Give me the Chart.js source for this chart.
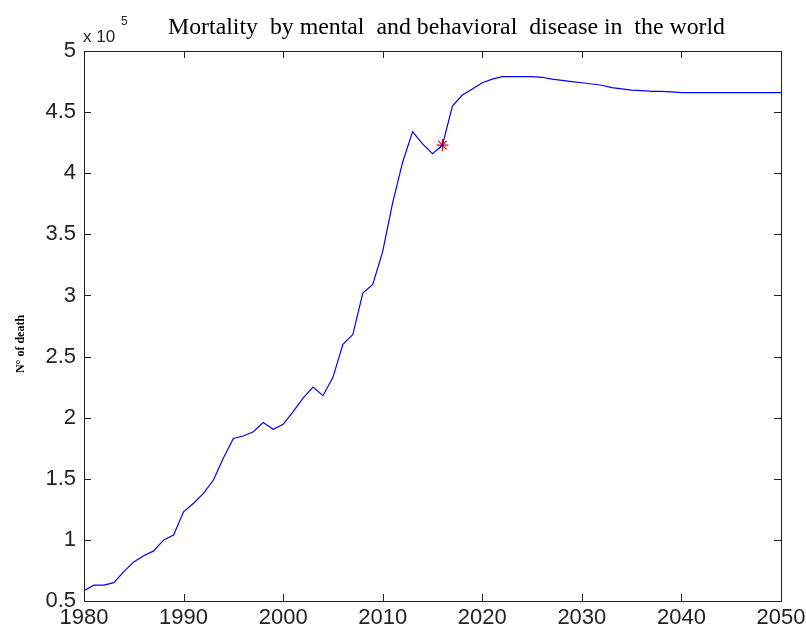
<!DOCTYPE html>
<html>
<head>
<meta charset="utf-8">
<script src="https://cdn.jsdelivr.net/npm/chart.js@4/dist/chart.umd.min.js"></script>
<style>
  html, body { margin: 0; padding: 0; background: #fff; }
  #wrap { width: 806px; height: 628px; }
</style>
</head>
<body>
<div id="wrap"><canvas id="chart" width="806" height="628"></canvas></div>
<script>
// years on the x axis
const years = [
    1980, 1981, 1982, 1983, 1984, 1985, 1986, 1987, 1988, 1989,
    1990, 1991, 1992, 1993, 1994, 1995, 1996, 1997, 1998, 1999,
    2000, 2001, 2002, 2003, 2004, 2005, 2006, 2007, 2008, 2009,
    2010, 2011, 2012, 2013, 2014, 2015, 2016, 2017, 2018, 2019,
    2020, 2021, 2022, 2023, 2024, 2025, 2026, 2027, 2028, 2029,
    2030, 2031, 2032, 2033, 2034, 2035, 2036, 2037, 2038, 2039,
    2040, 2041, 2042, 2043, 2044, 2045, 2046, 2047, 2048, 2049,
    2050
];

// number of deaths
const deaths = [
    58400, 63000, 63000, 65000, 74000, 82000, 87000, 91000, 100000, 104000,
    123000, 130000, 138000, 149000, 167000, 183000, 185000, 188500, 196000, 190500,
    194500, 205000, 216000, 225000, 218000, 233000, 260000, 268000, 302000, 309000,
    336000, 376000, 409000, 434000, 424000, 416000, 423000, 455000, 464000, 469000,
    474000, 477000, 479000, 479000, 479000, 479000, 478500, 477000, 476000, 475000,
    474000, 473000, 472000, 470000, 469000, 468000, 467500, 467000, 467000, 466500,
    466000, 466000, 466000, 466000, 466000, 466000, 466000, 466000, 466000, 466000,
    466000
];

// highlighted point (red star)
const markYear = 2016;
const markValue = 423000;

const xTicks = [1980, 1990, 2000, 2010, 2020, 2030, 2040, 2050];
const yTicks = [50000, 100000, 150000, 200000, 250000, 300000, 350000, 400000, 450000, 500000];

const titleText = 'Mortality  by mental  and behavioral  disease in  the world';
const yTitleText = 'N\u00b0 of death';

// рамка, внутренние засечки и подписи как в MATLAB
const matlabFrame = {
    id: 'matlabFrame',
    afterDraw(chart) {
        const ctx = chart.ctx;
        const a = chart.chartArea;
        const xs = chart.scales.x;
        const ys = chart.scales.y;
        const len = 7;

        ctx.save();
        ctx.strokeStyle = '#222';
        ctx.lineWidth = 1;
        ctx.strokeRect(Math.round(a.left) + 0.5, Math.round(a.top) + 0.5,
            Math.round(a.right - a.left), Math.round(a.bottom - a.top));

        ctx.beginPath();
        xTicks.forEach(v => {
            const px = Math.round(xs.getPixelForValue(v)) + 0.5;
            ctx.moveTo(px, a.bottom); ctx.lineTo(px, a.bottom - len);
            ctx.moveTo(px, a.top); ctx.lineTo(px, a.top + len);
        });
        yTicks.forEach(v => {
            const py = Math.round(ys.getPixelForValue(v)) + 0.5;
            ctx.moveTo(a.left, py); ctx.lineTo(a.left + len, py);
            ctx.moveTo(a.right, py); ctx.lineTo(a.right - len, py);
        });
        ctx.stroke();

        // заголовок (растягиваем по ширине как в оригинале)
        ctx.save();
        ctx.fillStyle = '#000';
        ctx.font = '23px "Liberation Serif", "Times New Roman", serif';
        ctx.textAlign = 'center';
        ctx.textBaseline = 'alphabetic';
        const w = ctx.measureText(titleText).width;
        ctx.translate(446.5, 34);
        ctx.scale(557 / w, 1);
        ctx.fillText(titleText, 0, 0);
        ctx.restore();

        // множитель оси Y
        ctx.fillStyle = '#222';
        ctx.textAlign = 'left';
        ctx.font = '17px "Liberation Sans", Arial, sans-serif';
        ctx.fillText('x 10', 83, 42);
        ctx.font = '12px "Liberation Sans", Arial, sans-serif';
        ctx.fillText('5', 121, 25);

        // подпись оси Y
        ctx.translate(24, 344);
        ctx.rotate(-Math.PI / 2);
        ctx.textAlign = 'center';
        ctx.fillStyle = '#000';
        ctx.font = 'bold 12px "Liberation Serif", "Times New Roman", serif';
        ctx.fillText(yTitleText, 0, 0);
        ctx.restore();
    }
};

new Chart(document.getElementById('chart'), {
    type: 'line',
    data: {
        datasets: [
            {
                data: years.map((y, i) => ({ x: y, y: deaths[i] })),
                borderColor: '#0000ff',
                borderWidth: 1.2,
                pointRadius: 0,
                tension: 0,
                fill: false
            },
            {
                data: [{ x: markYear, y: markValue }],
                showLine: false,
                pointStyle: 'star',
                pointRadius: 6,
                borderColor: '#ff0000',
                backgroundColor: '#ff0000',
                borderWidth: 1.2
            }
        ]
    },
    options: {
        responsive: false,
        animation: false,
        layout: { padding: { top: 51, right: 25, left: 0, bottom: 0 } },
        plugins: {
            legend: { display: false },
            tooltip: { enabled: false }
        },
        scales: {
            x: {
                type: 'linear',
                min: 1980,
                max: 2050,
                afterFit(scale) {
                    scale.height = 27;
                    scale.paddingLeft = 0;
                    scale.paddingRight = 0;
                },
                afterBuildTicks(scale) { scale.ticks = xTicks.map(v => ({ value: v })); },
                grid: { display: false, drawTicks: false },
                border: { display: false },
                ticks: {
                    padding: 4,
                    color: '#222',
                    maxRotation: 0,
                    font: { family: '"Liberation Sans", Arial, sans-serif', size: 22 },
                    callback: v => String(v)
                }
            },
            y: {
                min: 50000,
                max: 500000,
                afterFit(scale) { scale.width = 84; },
                afterBuildTicks(scale) { scale.ticks = yTicks.map(v => ({ value: v })); },
                grid: { display: false, drawTicks: false },
                border: { display: false },
                ticks: {
                    padding: 8,
                    color: '#222',
                    font: { family: '"Liberation Sans", Arial, sans-serif', size: 22 },
                    callback: v => String(v / 100000)
                }
            }
        }
    },
    plugins: [matlabFrame]
});
</script>
</body>
</html>
